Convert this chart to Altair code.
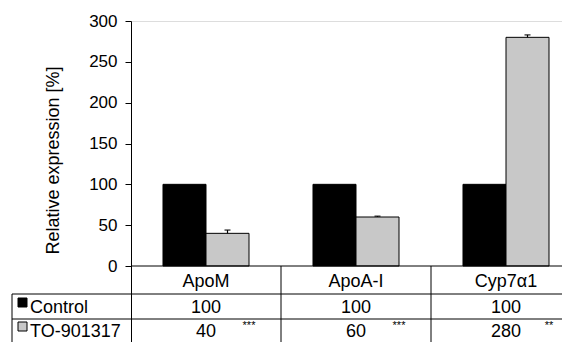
import altair as alt
import pandas as pd

# ---- data ----
genes = ["ApoM", "ApoA-I", "Cyp7α1"]
groups = ["Control", "TO-901317"]
control_vals = [100, 100, 100]
treated_vals = [40, 60, 280]
treated_err = [4, 1, 3]
stars = ["***", "***", "**"]
y_ticks = [0, 50, 100, 150, 200, 250, 300]
bar_colors = ["#000000", "#c8c8c8"]

FONT = "Liberation Sans"
W, H = 431, 321          # plot area (page x 131..562, y 21..342)
Y_MIN = -93.06           # lower end of y scale so the table sits below the axis

rows = []
for i, g in enumerate(genes):
    rows.append(dict(gene=g, group=groups[0], value=control_vals[i], err=0))
    rows.append(dict(gene=g, group=groups[1], value=treated_vals[i], err=treated_err[i]))
df = pd.DataFrame(rows)
df["top"] = df["value"] + df["err"]
df_t = df[df["group"] == groups[1]].copy()

tab = pd.DataFrame({"gene": genes, "ctrl": [str(v) for v in control_vals],
                    "trt": [str(v) for v in treated_vals], "stars": stars})
one = pd.DataFrame({"k": [0]})

x_scale = alt.Scale(domain=genes, paddingInner=0, paddingOuter=0, range=[0, 450])
xo_scale = alt.Scale(domain=groups, paddingInner=0, paddingOuter=0.744)
y_scale = alt.Scale(domain=[Y_MIN, 300], nice=False, zero=False)

X = alt.X("gene:N", scale=x_scale, axis=None)
XO = alt.XOffset("group:N", scale=xo_scale)

bars = alt.Chart(df).mark_bar(stroke="black", strokeWidth=1).encode(
    x=X, xOffset=XO,
    y=alt.Y("value:Q", scale=y_scale,
            axis=alt.Axis(values=y_ticks, grid=False, title="Relative expression [%]",
                          tickSize=6, labelPadding=8, labelFont=FONT, labelFontSize=17,
                          labelColor="black", tickColor="black", domainColor="black",
                          tickWidth=1, domainWidth=1,
                          titleFont=FONT, titleFontSize=18, titleFontWeight="normal",
                          titleColor="black", titleX=-69, titleY=139)),
    y2=alt.datum(0),
    color=alt.Color("group:N", scale=alt.Scale(domain=groups, range=bar_colors), legend=None),
)

err_line = alt.Chart(df_t).mark_rule(color="black", strokeWidth=1.2).encode(
    x=X, xOffset=XO, y=alt.Y("value:Q"), y2="top:Q")
err_cap = alt.Chart(df_t).mark_tick(color="black", orient="horizontal", size=6, thickness=1.5).encode(
    x=X, xOffset=XO, y=alt.Y("top:Q"))

# ---- table grid (pixel layout) ----
R1, R2 = 273, 298   # row separator lines (plot px)
base_line = alt.Chart(one).mark_rule(color="black", strokeWidth=1).encode(
    y=alt.datum(0), x=alt.value(0), x2=alt.value(W))
row_line1 = alt.Chart(one).mark_rule(color="black", strokeWidth=1).encode(
    y=alt.value(R1), x=alt.value(-119), x2=alt.value(W))
row_line2 = alt.Chart(one).mark_rule(color="black", strokeWidth=1).encode(
    y=alt.value(R2), x=alt.value(-119), x2=alt.value(W))
left_line = alt.Chart(one).mark_rule(color="black", strokeWidth=1).encode(
    x=alt.value(-119), y=alt.value(R1), y2=alt.value(H))
col_lines = alt.Chart(pd.DataFrame({"gene": genes[1:]})).mark_rule(color="black", strokeWidth=1).encode(
    x=alt.X("gene:N", scale=x_scale, axis=None, bandPosition=0),
    y=alt.datum(0), y2=alt.value(H))

# ---- table text ----
txt = dict(font=FONT, fontSize=18, color="black", baseline="alphabetic")
cat_text = alt.Chart(tab).mark_text(**txt).encode(x=X, y=alt.value(266), text="gene:N")
ctrl_text = alt.Chart(tab).mark_text(**txt).encode(x=X, y=alt.value(292), text="ctrl:N")
trt_text = alt.Chart(tab).mark_text(**txt).encode(x=X, y=alt.value(316), text="trt:N")
star_text = alt.Chart(tab).mark_text(font=FONT, fontSize=11, color="black",
                                     baseline="alphabetic", dx=43).encode(
    x=X, y=alt.value(308), text="stars:N")

lab = pd.DataFrame({"name": groups, "ypix": [292, 316], "sq": [281.5, 305.5]})
row_labels = alt.Chart(lab).mark_text(font=FONT, fontSize=18, color="black",
                                      baseline="alphabetic", align="left").encode(
    x=alt.value(-101), y=alt.Y("ypix:Q", scale=None), text="name:N")
swatches = alt.Chart(lab).mark_square(size=81, stroke="black", strokeWidth=1, opacity=1).encode(
    x=alt.value(-108.5), y=alt.Y("sq:Q", scale=None),
    fill=alt.Fill("name:N", scale=alt.Scale(domain=groups, range=bar_colors), legend=None))

chart = alt.layer(
    bars, err_line, err_cap, base_line, row_line1, row_line2, left_line, col_lines,
    cat_text, ctrl_text, trt_text, star_text, row_labels, swatches
).properties(
    width=W, height=H,
    padding={"left": 123, "top": 13, "right": 0, "bottom": 0},
    autosize=alt.AutoSizeParams(type="none"),
).configure_view(stroke=None).configure(font=FONT, background="white")

chart.save("out.html", embed_options={"renderer": "svg", "actions": False})
